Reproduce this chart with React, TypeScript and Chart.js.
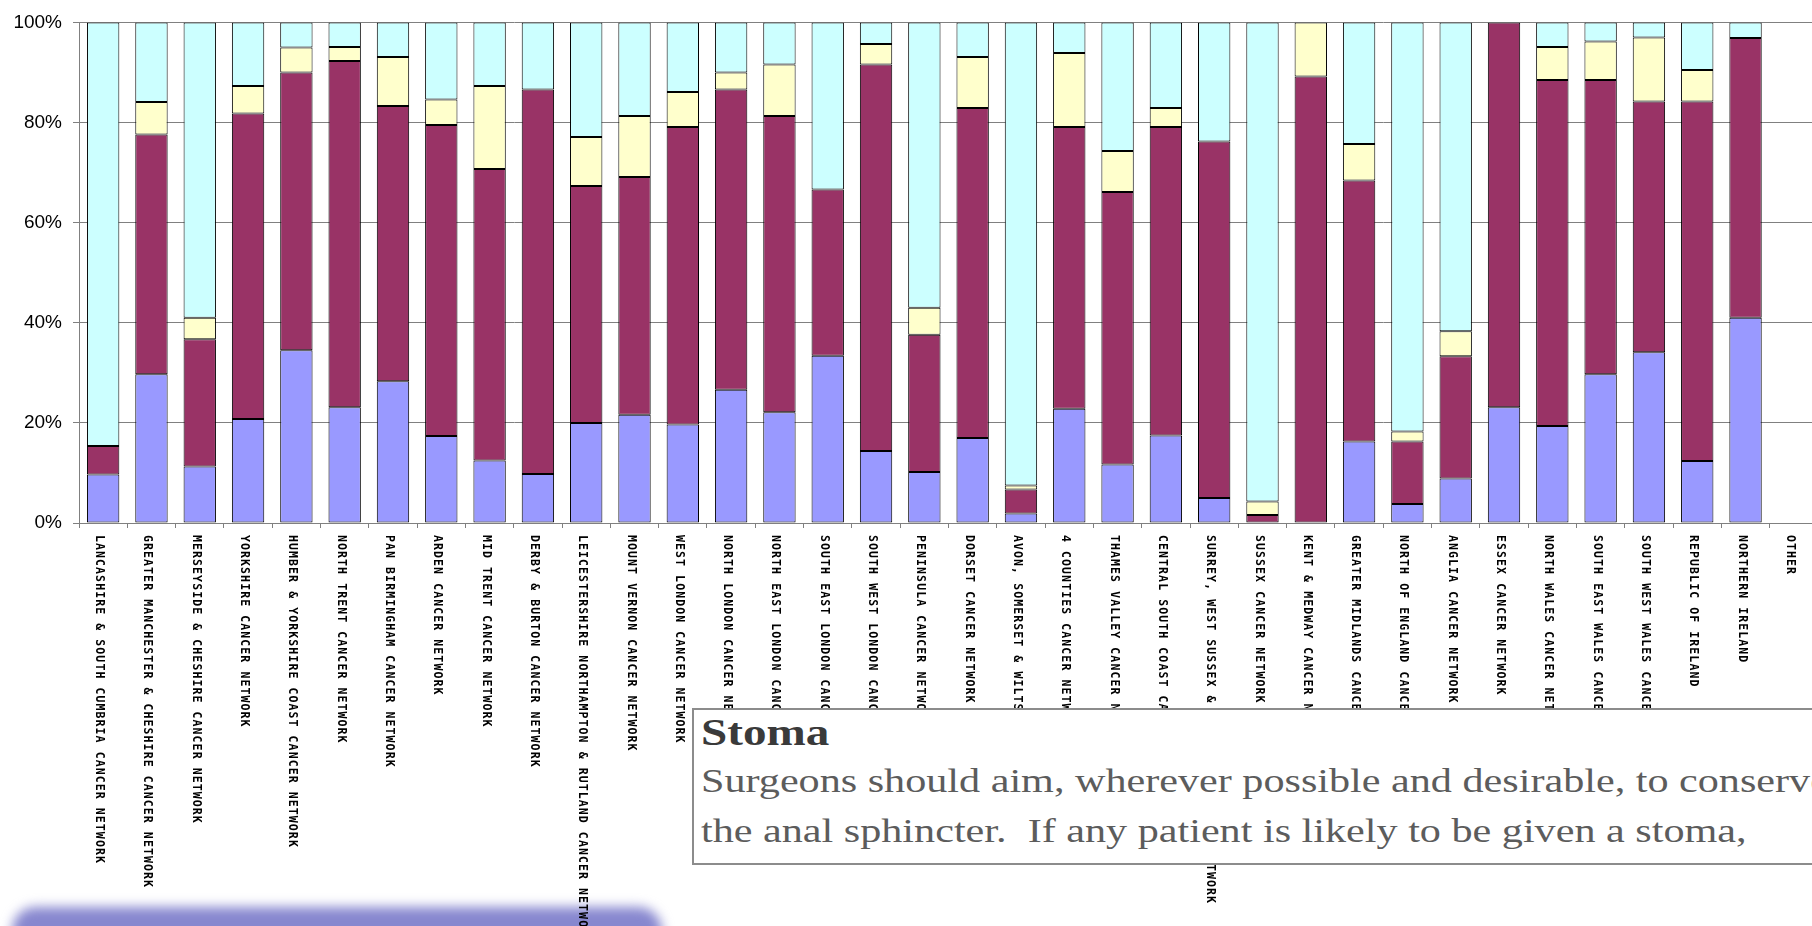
import React, { useEffect, useRef } from "react";
import { Chart, registerables } from "chart.js";

Chart.register(...registerables);

const categories: string[] = [
  "LANCASHIRE & SOUTH CUMBRIA CANCER NETWORK",
  "GREATER MANCHESTER & CHESHIRE CANCER NETWORK",
  "MERSEYSIDE & CHESHIRE CANCER NETWORK",
  "YORKSHIRE CANCER NETWORK",
  "HUMBER & YORKSHIRE COAST CANCER NETWORK",
  "NORTH TRENT CANCER NETWORK",
  "PAN BIRMINGHAM CANCER NETWORK",
  "ARDEN CANCER NETWORK",
  "MID TRENT CANCER NETWORK",
  "DERBY & BURTON CANCER NETWORK",
  "LEICESTERSHIRE NORTHAMPTON & RUTLAND CANCER NETWORK",
  "MOUNT VERNON CANCER NETWORK",
  "WEST LONDON CANCER NETWORK",
  "NORTH LONDON CANCER NETWORK",
  "NORTH EAST LONDON CANCER NETWORK",
  "SOUTH EAST LONDON CANCER NETWORK",
  "SOUTH WEST LONDON CANCER NETWORK",
  "PENINSULA CANCER NETWORK",
  "DORSET CANCER NETWORK",
  "AVON, SOMERSET & WILTSHIRE CANCER NETWORK",
  "4 COUNTIES CANCER NETWORK",
  "THAMES VALLEY CANCER NETWORK",
  "CENTRAL SOUTH COAST CANCER NETWORK",
  "SURREY, WEST SUSSEX & HAMPSHIRE CANCER NETWORK",
  "SUSSEX CANCER NETWORK",
  "KENT & MEDWAY CANCER NETWORK",
  "GREATER MIDLANDS CANCER NETWORK",
  "NORTH OF ENGLAND CANCER NETWORK",
  "ANGLIA CANCER NETWORK",
  "ESSEX CANCER NETWORK",
  "NORTH WALES CANCER NETWORK",
  "SOUTH EAST WALES CANCER NETWORK",
  "SOUTH WEST WALES CANCER NETWORK",
  "REPUBLIC OF IRELAND",
  "NORTHERN IRELAND",
  "OTHER",
];

// percentage share of each segment (bottom to top)
const series1: (number | null)[] = [
  9.7, 29.7, 11.3, 20.8, 34.5, 23.1, 28.3, 17.4, 12.5, 9.8, 20.0, 21.6, 19.7, 26.6, 22.1, 33.4, 14.4, 10.2,
  17.0, 1.9, 22.8, 11.7, 17.5, 5.0, 0, 0, 16.3, 3.8, 8.9, 23.1, 19.4, 29.7, 34.1, 12.4, 41.0, null,
];
const series2: (number | null)[] = [
  5.7, 47.9, 25.4, 61.0, 55.5, 69.2, 55.0, 62.1, 58.2, 76.8, 47.3, 47.5, 59.4, 60.0, 59.2, 33.2, 77.2, 27.4,
  65.9, 4.8, 56.3, 54.4, 61.6, 71.2, 1.6, 89.2, 52.1, 12.5, 24.4, 76.9, 69.1, 58.8, 50.1, 71.8, 55.9, null,
];
const series3: (number | null)[] = [
  0, 6.5, 4.3, 5.5, 5.0, 2.8, 9.8, 5.1, 16.6, 0, 9.8, 12.2, 7.0, 3.4, 10.3, 0, 4.1, 5.4,
  10.2, 0.8, 14.8, 8.2, 3.8, 0, 2.7, 10.8, 7.3, 2.0, 5.0, 0, 6.6, 7.7, 12.8, 6.3, 0, null,
];
const series4: (number | null)[] = [
  84.6, 15.9, 59.0, 12.7, 5.0, 4.9, 6.9, 15.4, 12.7, 13.4, 22.9, 18.7, 13.9, 10.0, 8.4, 33.4, 4.3, 57.0,
  6.9, 92.5, 6.1, 25.7, 17.1, 23.8, 95.7, 0, 24.3, 81.7, 61.7, 0, 4.9, 3.8, 3.0, 9.5, 3.1, null,
];

const yTickValues: number[] = [0, 20, 40, 60, 80, 100];

const seriesColors = ["#9999FF", "#993366", "#FFFFCC", "#CCFFFF"];

const rotatedLabels = {
  id: "rotatedLabels",
  afterDraw(chart: any) {
    const xs = chart.scales.x;
    const ctx = chart.ctx as CanvasRenderingContext2D;
    ctx.save();
    ctx.font = 'bold 11.5px "DejaVu Sans Mono", monospace';
    (ctx as any).letterSpacing = "1.1px";
    ctx.fillStyle = "#000";
    ctx.textAlign = "left";
    ctx.textBaseline = "middle";
    categories.forEach((c, i) => {
      const x = xs.getPixelForValue(i) - 4;
      ctx.save();
      ctx.translate(x, xs.top + 12);
      ctx.rotate(Math.PI / 2);
      ctx.fillText(c, 0, 0);
      ctx.restore();
    });
    ctx.restore();
  },
};

export default function App() {
  const ref = useRef<HTMLCanvasElement | null>(null);

  useEffect(() => {
    if (!ref.current) return;
    const all = [series1, series2, series3, series4];
    const chart = new Chart(ref.current, {
      type: "bar",
      data: {
        labels: categories,
        datasets: all.map((d, i) => ({
          label: "Series " + (i + 1),
          data: d,
          backgroundColor: seriesColors[i],
          borderColor: "#000000",
          borderWidth: 1,
          borderSkipped: false,
          barPercentage: 0.67,
          categoryPercentage: 1.0,
        })),
      },
      options: {
        responsive: false,
        animation: false,
        devicePixelRatio: 1,
        layout: { padding: { left: 0, top: 22, right: 12, bottom: 0 } },
        plugins: { legend: { display: false }, tooltip: { enabled: false } },
        scales: {
          x: {
            stacked: true,
            offset: true,
            grid: {
              display: true,
              drawOnChartArea: false,
              drawTicks: true,
              tickLength: 5,
              color: "#808080",
              offset: true,
            },
            border: { display: true, color: "#808080" },
            ticks: { display: false },
            afterFit(scale: any) {
              scale.height = 403;
            },
          },
          y: {
            stacked: true,
            min: 0,
            max: 100,
            afterBuildTicks(scale: any) {
              scale.ticks = yTickValues.map((v) => ({ value: v }));
            },
            ticks: {
              callback: (v: any) => v + "%",
              font: { family: '"Liberation Sans", Arial, sans-serif', size: 19 },
              color: "#000",
              padding: 11,
            },
            grid: { color: "#808080", tickLength: 6, lineWidth: 1 },
            border: { display: true, color: "#808080" },
            afterFit(scale: any) {
              scale.width = 79;
            },
          },
        },
      },
      plugins: [rotatedLabels],
    });
    return () => chart.destroy();
  }, []);

  const serif = '"Liberation Serif", "Times New Roman", serif';

  return (
    <div
      style={{
        position: "fixed",
        left: 0,
        top: 0,
        width: "100vw",
        height: "100vh",
        overflow: "hidden",
        background: "#ffffff",
      }}
    >
      <div
        style={{
          position: "absolute",
          left: 12,
          top: 907,
          width: 650,
          height: 50,
          background: "#8787cf",
          borderRadius: 24,
          filter: "blur(6px)",
        }}
      />
      <canvas
        ref={ref}
        width={1830}
        height={926}
        style={{ position: "absolute", left: 0, top: 0, width: 1830, height: 926 }}
      />
      <div
        style={{
          position: "absolute",
          left: 692,
          top: 708,
          width: 1200,
          height: 157,
          boxSizing: "border-box",
          border: "2px solid #8c8c8c",
          background: "#ffffff",
        }}
      >
        <div
          style={{
            position: "absolute",
            left: 7,
            top: 3,
            fontFamily: serif,
            fontWeight: "bold",
            fontSize: 38,
            lineHeight: "38px",
            color: "#3a3a3a",
            whiteSpace: "pre",
            transform: "scaleX(1.24)",
            transformOrigin: "left top",
          }}
        >
          Stoma
        </div>
        <div
          style={{
            position: "absolute",
            left: 7,
            top: 54,
            fontFamily: serif,
            fontSize: 34,
            lineHeight: "34px",
            color: "#5c5c5c",
            whiteSpace: "pre",
            transform: "scaleX(1.24)",
            transformOrigin: "left top",
          }}
        >
          Surgeons should aim, wherever possible and desirable, to conserve
        </div>
        <div
          style={{
            position: "absolute",
            left: 7,
            top: 104,
            fontFamily: serif,
            fontSize: 34,
            lineHeight: "34px",
            color: "#5c5c5c",
            whiteSpace: "pre",
            transform: "scaleX(1.24)",
            transformOrigin: "left top",
          }}
        >
          {"the anal sphincter.  If any patient is likely to be given a stoma,"}
        </div>
      </div>
    </div>
  );
}
